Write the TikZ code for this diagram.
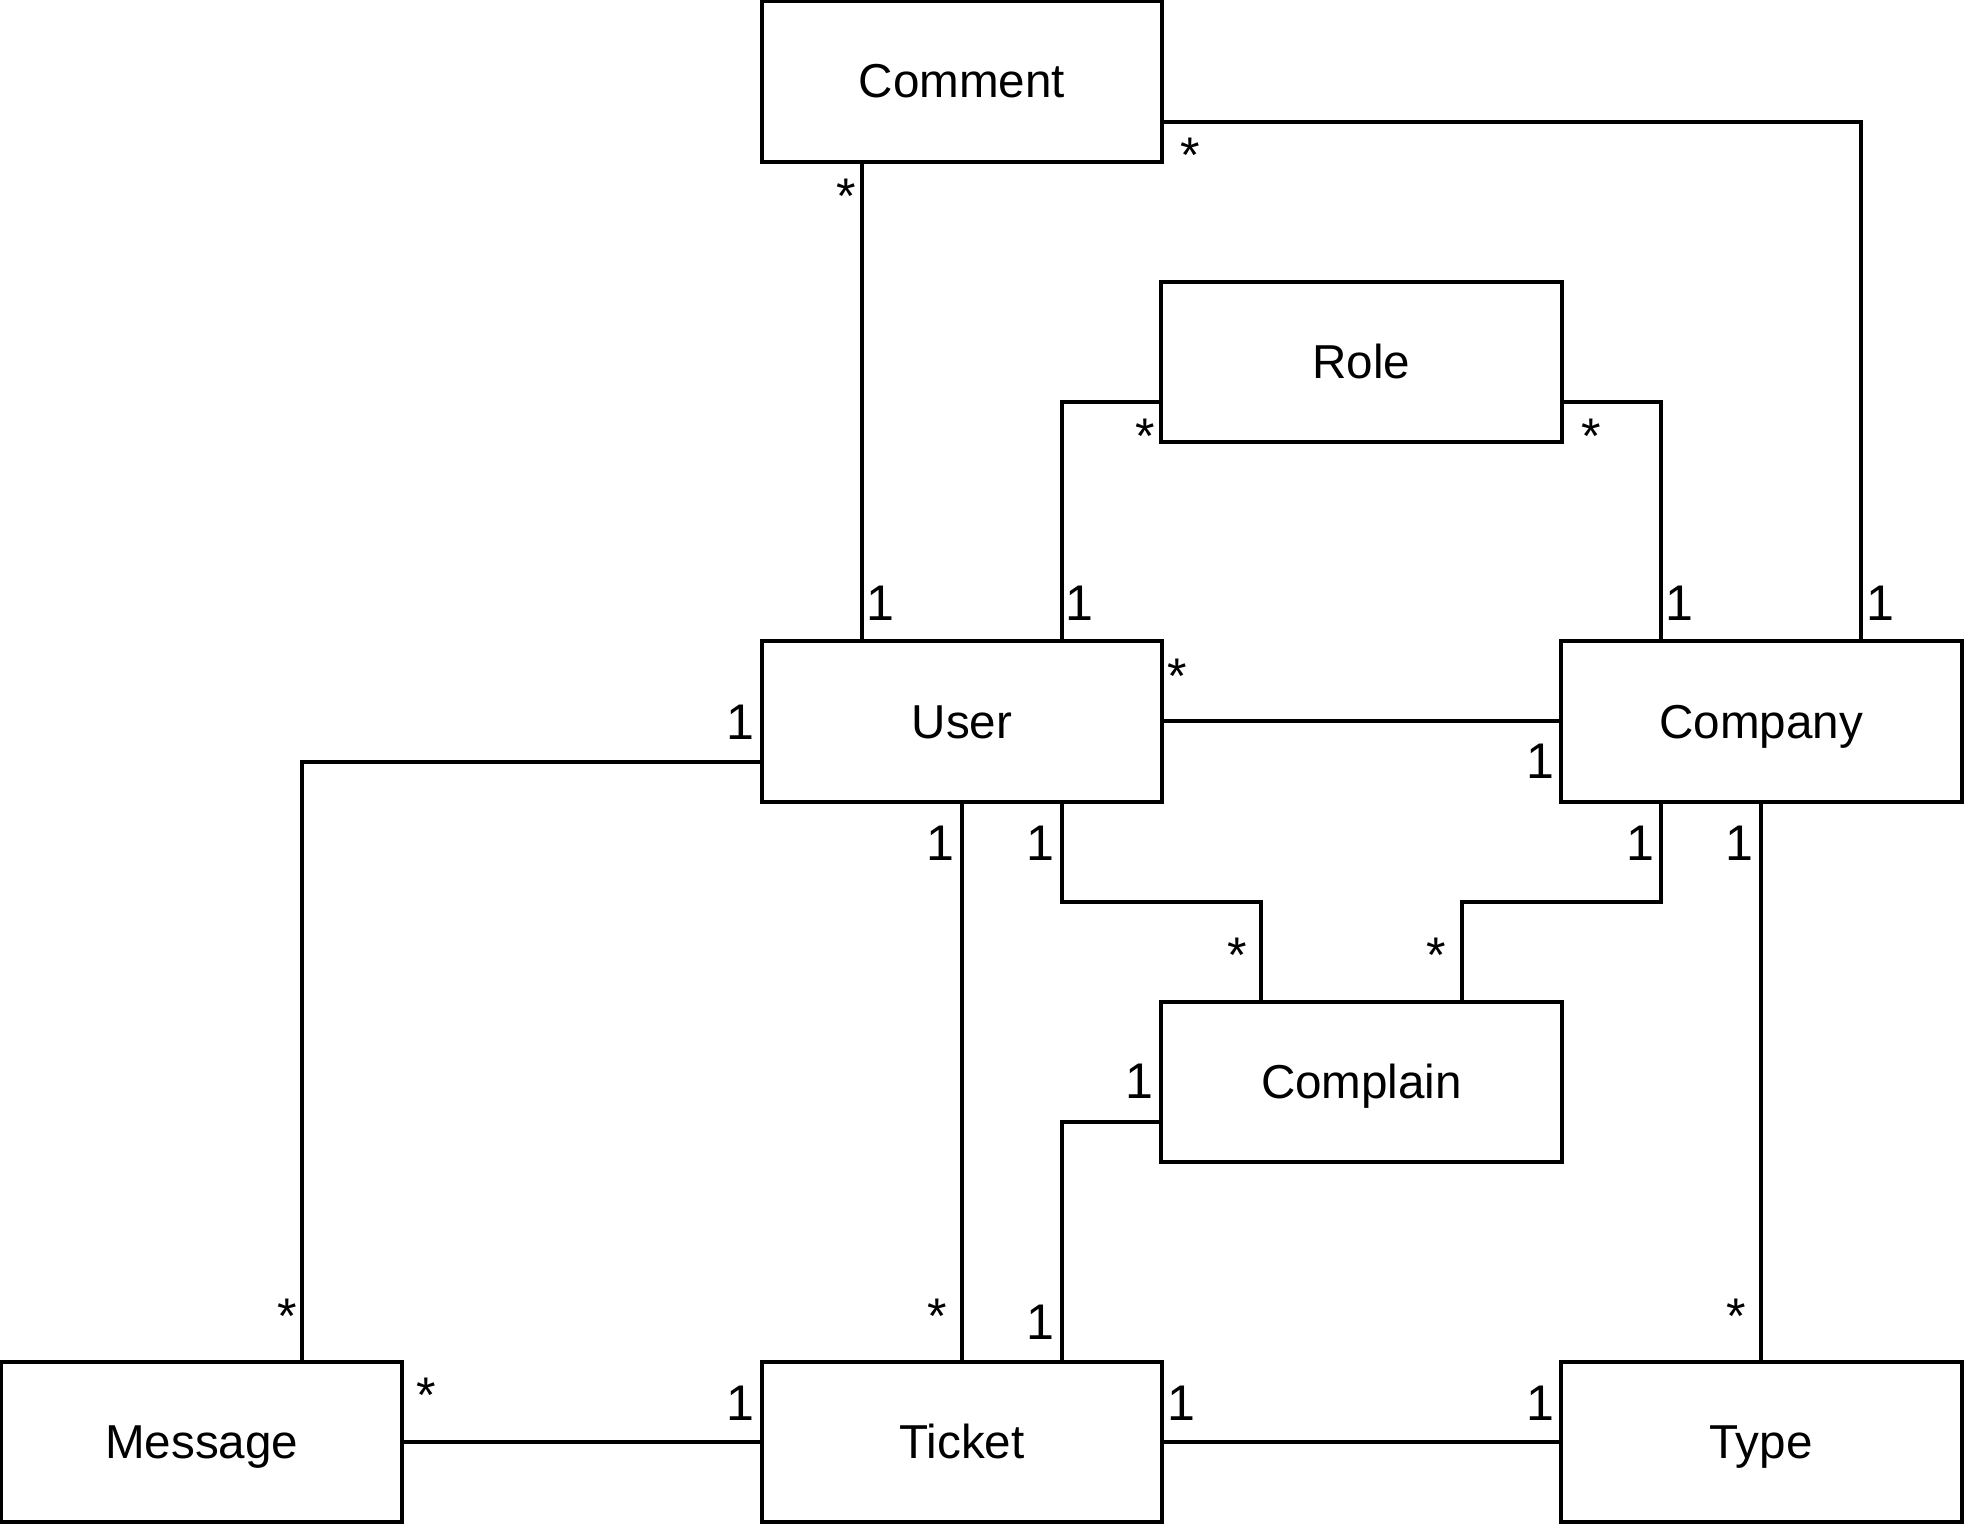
\documentclass[tikz,border=0pt]{standalone}
\usepackage{fontspec}
\setmainfont{Liberation Sans}
\usepackage{tikz}
\usetikzlibrary{calc}

\begin{document}
\begin{tikzpicture}[x=0.5pt,y=-0.5pt,line width=1.6pt,
  entity/.style={draw,rectangle,minimum width=160pt,minimum height=64pt,inner sep=0pt,text height=13.2pt,text depth=0pt,font=\fontsize{19}{22}\selectfont},
  mult/.style={inner sep=0pt,font=\fontsize{20}{23}\selectfont}]
\useasboundingbox (0,0) rectangle (1568,1217);

\node (Comment) at (768,65)[entity] {Comment};
\node (Role) at (1087,289)[entity] {Role};
\node (User) at (768,576)[entity] {User};
\node (Company) at (1406,576)[entity] {Company};
\node (Complain) at (1087,864)[entity] {Complain};
\node (Message) at (161,1151)[entity] {Message};
\node (Ticket) at (768,1151)[entity] {Ticket};
\node (Type) at (1406,1151)[entity] {Type};

\draw ([xshift=-40pt]Comment.south) -- ([xshift=-40pt]User.north);
\draw ([yshift=-16pt]Comment.east) -| ([xshift=40pt]Company.north);
\draw ([yshift=-16pt]Role.west) -| ([xshift=40pt]User.north);
\draw ([yshift=-16pt]Role.east) -| ([xshift=-40pt]Company.north);
\draw (User.east) -- (Company.west);
\draw ([yshift=-16pt]User.west) -| ([xshift=40pt]Message.north);
\draw (User.south) -- (Ticket.north);
\draw ([xshift=40pt]User.south) |- ($([xshift=40pt]User.south)!0.5!([xshift=-40pt]Complain.north)$) -| ([xshift=-40pt]Complain.north);
\draw ([xshift=-40pt]Company.south) |- ($([xshift=-40pt]Company.south)!0.5!([xshift=40pt]Complain.north)$) -| ([xshift=40pt]Complain.north);
\draw (Company.south) -- (Type.north);
\draw ([yshift=-16pt]Complain.west) -| ([xshift=40pt]Ticket.north);
\draw (Message.east) -- (Ticket.west);
\draw (Ticket.east) -- (Type.west);

\node (m1a) at (676,157)[mult] {*};
\node (m1b) at (703,482)[mult] {1};
\node (m2a) at (950,124)[mult] {*};
\node (m2b) at (1501,482)[mult] {1};
\node (m3a) at (914,348)[mult] {*};
\node (m3b) at (862,482)[mult] {1};
\node (m4a) at (1270,348)[mult] {*};
\node (m4b) at (1341,482)[mult] {1};
\node (m5a) at (940,540)[mult] {*};
\node (m5b) at (1230,608)[mult] {1};
\node (m6a) at (591,577)[mult] {1};
\node (m6b) at (229,1051)[mult] {*};
\node (m7a) at (751,673)[mult] {1};
\node (m7b) at (748,1051)[mult] {*};
\node (m8a) at (831,673)[mult] {1};
\node (m8b) at (988,763)[mult] {*};
\node (m9a) at (1310,673)[mult] {1};
\node (m9b) at (1147,763)[mult] {*};
\node (m10a) at (1389,673)[mult] {1};
\node (m10b) at (1386,1051)[mult] {*};
\node (m11a) at (910,863)[mult] {1};
\node (m11b) at (831,1056)[mult] {1};
\node (m12a) at (340,1114)[mult] {*};
\node (m12b) at (591,1120)[mult] {1};
\node (m13a) at (943,1120)[mult] {1};
\node (m13b) at (1230,1120)[mult] {1};
\end{tikzpicture}
\end{document}
